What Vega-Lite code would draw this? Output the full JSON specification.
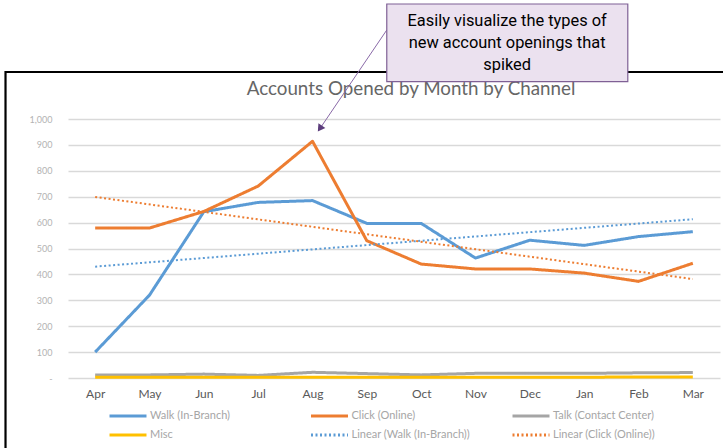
{
  "$schema": "https://vega.github.io/schema/vega-lite/v6.json",
  "width": 652,
  "height": 259,
  "autosize": {"type": "none"},
  "padding": {"left": 68, "top": 119, "right": 3, "bottom": 70},
  "background": "white",
  "config": {"view": {"stroke": null}, "font": "Lato", "axisY": {"tickCount": 11}},
  "layer": [
    {
      "data": {
        "values": [
          {"idx": 0, "Month": "Apr", "series": "Walk (In-Branch)", "value": 100},
          {"idx": 1, "Month": "May", "series": "Walk (In-Branch)", "value": 320},
          {"idx": 2, "Month": "Jun", "series": "Walk (In-Branch)", "value": 642},
          {"idx": 3, "Month": "Jul", "series": "Walk (In-Branch)", "value": 678},
          {"idx": 4, "Month": "Aug", "series": "Walk (In-Branch)", "value": 685},
          {"idx": 5, "Month": "Sep", "series": "Walk (In-Branch)", "value": 597},
          {"idx": 6, "Month": "Oct", "series": "Walk (In-Branch)", "value": 597},
          {"idx": 7, "Month": "Nov", "series": "Walk (In-Branch)", "value": 463},
          {"idx": 8, "Month": "Dec", "series": "Walk (In-Branch)", "value": 532},
          {"idx": 9, "Month": "Jan", "series": "Walk (In-Branch)", "value": 512},
          {"idx": 10, "Month": "Feb", "series": "Walk (In-Branch)", "value": 546},
          {"idx": 11, "Month": "Mar", "series": "Walk (In-Branch)", "value": 565},
          {"idx": 0, "Month": "Apr", "series": "Click (Online)", "value": 579},
          {"idx": 1, "Month": "May", "series": "Click (Online)", "value": 579},
          {"idx": 2, "Month": "Jun", "series": "Click (Online)", "value": 643},
          {"idx": 3, "Month": "Jul", "series": "Click (Online)", "value": 741},
          {"idx": 4, "Month": "Aug", "series": "Click (Online)", "value": 914},
          {"idx": 5, "Month": "Sep", "series": "Click (Online)", "value": 530},
          {"idx": 6, "Month": "Oct", "series": "Click (Online)", "value": 440},
          {"idx": 7, "Month": "Nov", "series": "Click (Online)", "value": 421},
          {"idx": 8, "Month": "Dec", "series": "Click (Online)", "value": 421},
          {"idx": 9, "Month": "Jan", "series": "Click (Online)", "value": 405},
          {"idx": 10, "Month": "Feb", "series": "Click (Online)", "value": 373},
          {"idx": 11, "Month": "Mar", "series": "Click (Online)", "value": 443},
          {"idx": 0, "Month": "Apr", "series": "Talk (Contact Center)", "value": 12},
          {"idx": 1, "Month": "May", "series": "Talk (Contact Center)", "value": 12},
          {"idx": 2, "Month": "Jun", "series": "Talk (Contact Center)", "value": 15},
          {"idx": 3, "Month": "Jul", "series": "Talk (Contact Center)", "value": 10},
          {"idx": 4, "Month": "Aug", "series": "Talk (Contact Center)", "value": 22},
          {"idx": 5, "Month": "Sep", "series": "Talk (Contact Center)", "value": 17},
          {"idx": 6, "Month": "Oct", "series": "Talk (Contact Center)", "value": 12},
          {"idx": 7, "Month": "Nov", "series": "Talk (Contact Center)", "value": 18},
          {"idx": 8, "Month": "Dec", "series": "Talk (Contact Center)", "value": 18},
          {"idx": 9, "Month": "Jan", "series": "Talk (Contact Center)", "value": 18},
          {"idx": 10, "Month": "Feb", "series": "Talk (Contact Center)", "value": 20},
          {"idx": 11, "Month": "Mar", "series": "Talk (Contact Center)", "value": 21},
          {"idx": 0, "Month": "Apr", "series": "Misc", "value": 3},
          {"idx": 1, "Month": "May", "series": "Misc", "value": 3},
          {"idx": 2, "Month": "Jun", "series": "Misc", "value": 3},
          {"idx": 3, "Month": "Jul", "series": "Misc", "value": 3},
          {"idx": 4, "Month": "Aug", "series": "Misc", "value": 3},
          {"idx": 5, "Month": "Sep", "series": "Misc", "value": 3},
          {"idx": 6, "Month": "Oct", "series": "Misc", "value": 3},
          {"idx": 7, "Month": "Nov", "series": "Misc", "value": 3},
          {"idx": 8, "Month": "Dec", "series": "Misc", "value": 3},
          {"idx": 9, "Month": "Jan", "series": "Misc", "value": 3},
          {"idx": 10, "Month": "Feb", "series": "Misc", "value": 4},
          {"idx": 11, "Month": "Mar", "series": "Misc", "value": 4}
        ]
      },
      "mark": {"type": "line", "strokeWidth": 3, "strokeJoin": "round"},
      "encoding": {
        "x": {
          "field": "idx",
          "type": "quantitative",
          "scale": {"domain": [-0.5, 11.5], "nice": false, "zero": false},
          "axis": {
            "title": null,
            "values": [0, 1, 2, 3, 4, 5, 6, 7, 8, 9, 10, 11],
            "labelExpr": "['Apr','May','Jun','Jul','Aug','Sep','Oct','Nov','Dec','Jan','Feb','Mar'][datum.value]",
            "grid": false,
            "domain": false,
            "ticks": false,
            "labelPadding": 10,
            "labelFontSize": 12,
            "labelFont": "Lato",
            "labelColor": "#595959",
            "labelFlush": false,
            "labelOverlap": false
          }
        },
        "y": {
          "field": "value",
          "type": "quantitative",
          "scale": {"domain": [0, 1000], "nice": false},
          "axis": {
            "title": null,
            "values": [0, 100, 200, 300, 400, 500, 600, 700, 800, 900, 1000],
            "labelExpr": "datum.value === 0 ? '-' : format(datum.value, ',')",
            "grid": true,
            "gridColor": "#d9d9d9",
            "gridWidth": 1.3,
            "domain": false,
            "ticks": false,
            "labelPadding": 16,
            "labelFontSize": 9,
            "labelFont": "Lato",
            "labelColor": "#b3b3b3",
            "labelOverlap": false
          }
        },
        "color": {
          "field": "series",
          "type": "nominal",
          "scale": {
            "domain": ["Walk (In-Branch)", "Click (Online)", "Talk (Contact Center)", "Misc", "Linear (Walk (In-Branch))", "Linear (Click (Online))"],
            "range": ["#5b9bd5", "#ed7d31", "#a5a5a5", "#ffc000", "#5b9bd5", "#ed7d31"]
          },
          "legend": {
            "orient": "none",
            "legendX": 49,
            "legendY": 286,
            "direction": "horizontal",
            "columns": 3,
            "title": null,
            "symbolType": "M-2,0H2",
            "symbolSize": 342,
            "symbolStrokeWidth": 3,
            "labelFontSize": 11,
            "labelColor": "#a6a6a6",
            "labelFont": "Lato",
            "labelOffset": 11,
            "columnPadding": 35.5,
            "rowPadding": 2,
            "gridAlign": "all"
          }
        },
        "strokeDash": {
          "field": "series",
          "type": "nominal",
          "scale": {
            "domain": ["Walk (In-Branch)", "Click (Online)", "Talk (Contact Center)", "Misc", "Linear (Walk (In-Branch))", "Linear (Click (Online))"],
            "range": [[1, 0], [1, 0], [1, 0], [1, 0], [2, 2.5], [2, 2.5]]
          },
          "legend": {
            "orient": "none",
            "legendX": 49,
            "legendY": 286,
            "direction": "horizontal",
            "columns": 3,
            "title": null,
            "symbolType": "M-2,0H2",
            "symbolSize": 342,
            "symbolStrokeWidth": 3,
            "labelFontSize": 11,
            "labelColor": "#a6a6a6",
            "labelFont": "Lato",
            "labelOffset": 11,
            "columnPadding": 35.5,
            "rowPadding": 2,
            "gridAlign": "all"
          }
        }
      }
    },
    {
      "data": {
        "values": [
          {"idx": 0, "Month": "Apr", "series": "Linear (Walk (In-Branch))", "value": 430},
          {"idx": 11, "Month": "Mar", "series": "Linear (Walk (In-Branch))", "value": 613},
          {"idx": 0, "Month": "Apr", "series": "Linear (Click (Online))", "value": 699},
          {"idx": 11, "Month": "Mar", "series": "Linear (Click (Online))", "value": 382}
        ]
      },
      "mark": {"type": "line", "strokeWidth": 2},
      "encoding": {
        "x": {"field": "idx", "type": "quantitative"},
        "y": {"field": "value", "type": "quantitative"},
        "color": {"field": "series", "type": "nominal"},
        "strokeDash": {"field": "series", "type": "nominal"}
      }
    },
    {
      "data": {"values": [{}]},
      "mark": {
        "type": "text",
        "text": "Accounts Opened by Month by Channel",
        "font": "Lato",
        "fontSize": 18.8,
        "color": "#666666",
        "align": "center",
        "baseline": "middle",
        "clip": false
      },
      "encoding": {
        "x": {"datum": 5.813},
        "y": {"datum": 1115.8}
      }
    },
    {
      "data": {"values": [{}]},
      "mark": {"type": "rect", "fill": null, "stroke": "#000000", "strokeWidth": 2.2, "clip": false},
      "encoding": {
        "x": {"datum": -1.65},
        "x2": {"datum": 13},
        "y": {"datum": 1181.5},
        "y2": {"datum": -400}
      }
    },
    {
      "data": {"values": [{}]},
      "mark": {"type": "rule", "stroke": "#8a6aa8", "strokeWidth": 1, "clip": false},
      "encoding": {
        "x": {"datum": 5.367},
        "x2": {"datum": 4.15},
        "y": {"datum": 1343.6},
        "y2": {"datum": 967}
      }
    },
    {
      "data": {"values": [{}]},
      "mark": {"type": "point", "shape": "triangle", "filled": true, "fill": "#5c3d7c", "opacity": 1, "size": 70, "angle": 214, "clip": false},
      "encoding": {
        "x": {"datum": 4.148},
        "y": {"datum": 966.8}
      }
    },
    {
      "data": {"values": [{}]},
      "mark": {"type": "rect", "fill": "#ebe1ef", "stroke": "#7f6095", "strokeWidth": 1.2, "clip": false},
      "encoding": {
        "x": {"datum": 5.367},
        "x2": {"datum": 9.803},
        "y": {"datum": 1444},
        "y2": {"datum": 1144}
      }
    },
    {
      "data": {"values": [{}]},
      "mark": {
        "type": "text",
        "text": ["Easily visualize the types of", "new account openings that", "spiked"],
        "font": "Roboto",
        "fontSize": 16.4,
        "color": "#000000",
        "align": "center",
        "baseline": "middle",
        "lineHeight": 22,
        "clip": false
      },
      "encoding": {
        "x": {"datum": 7.582},
        "y": {"datum": 1379.5}
      }
    }
  ]
}
